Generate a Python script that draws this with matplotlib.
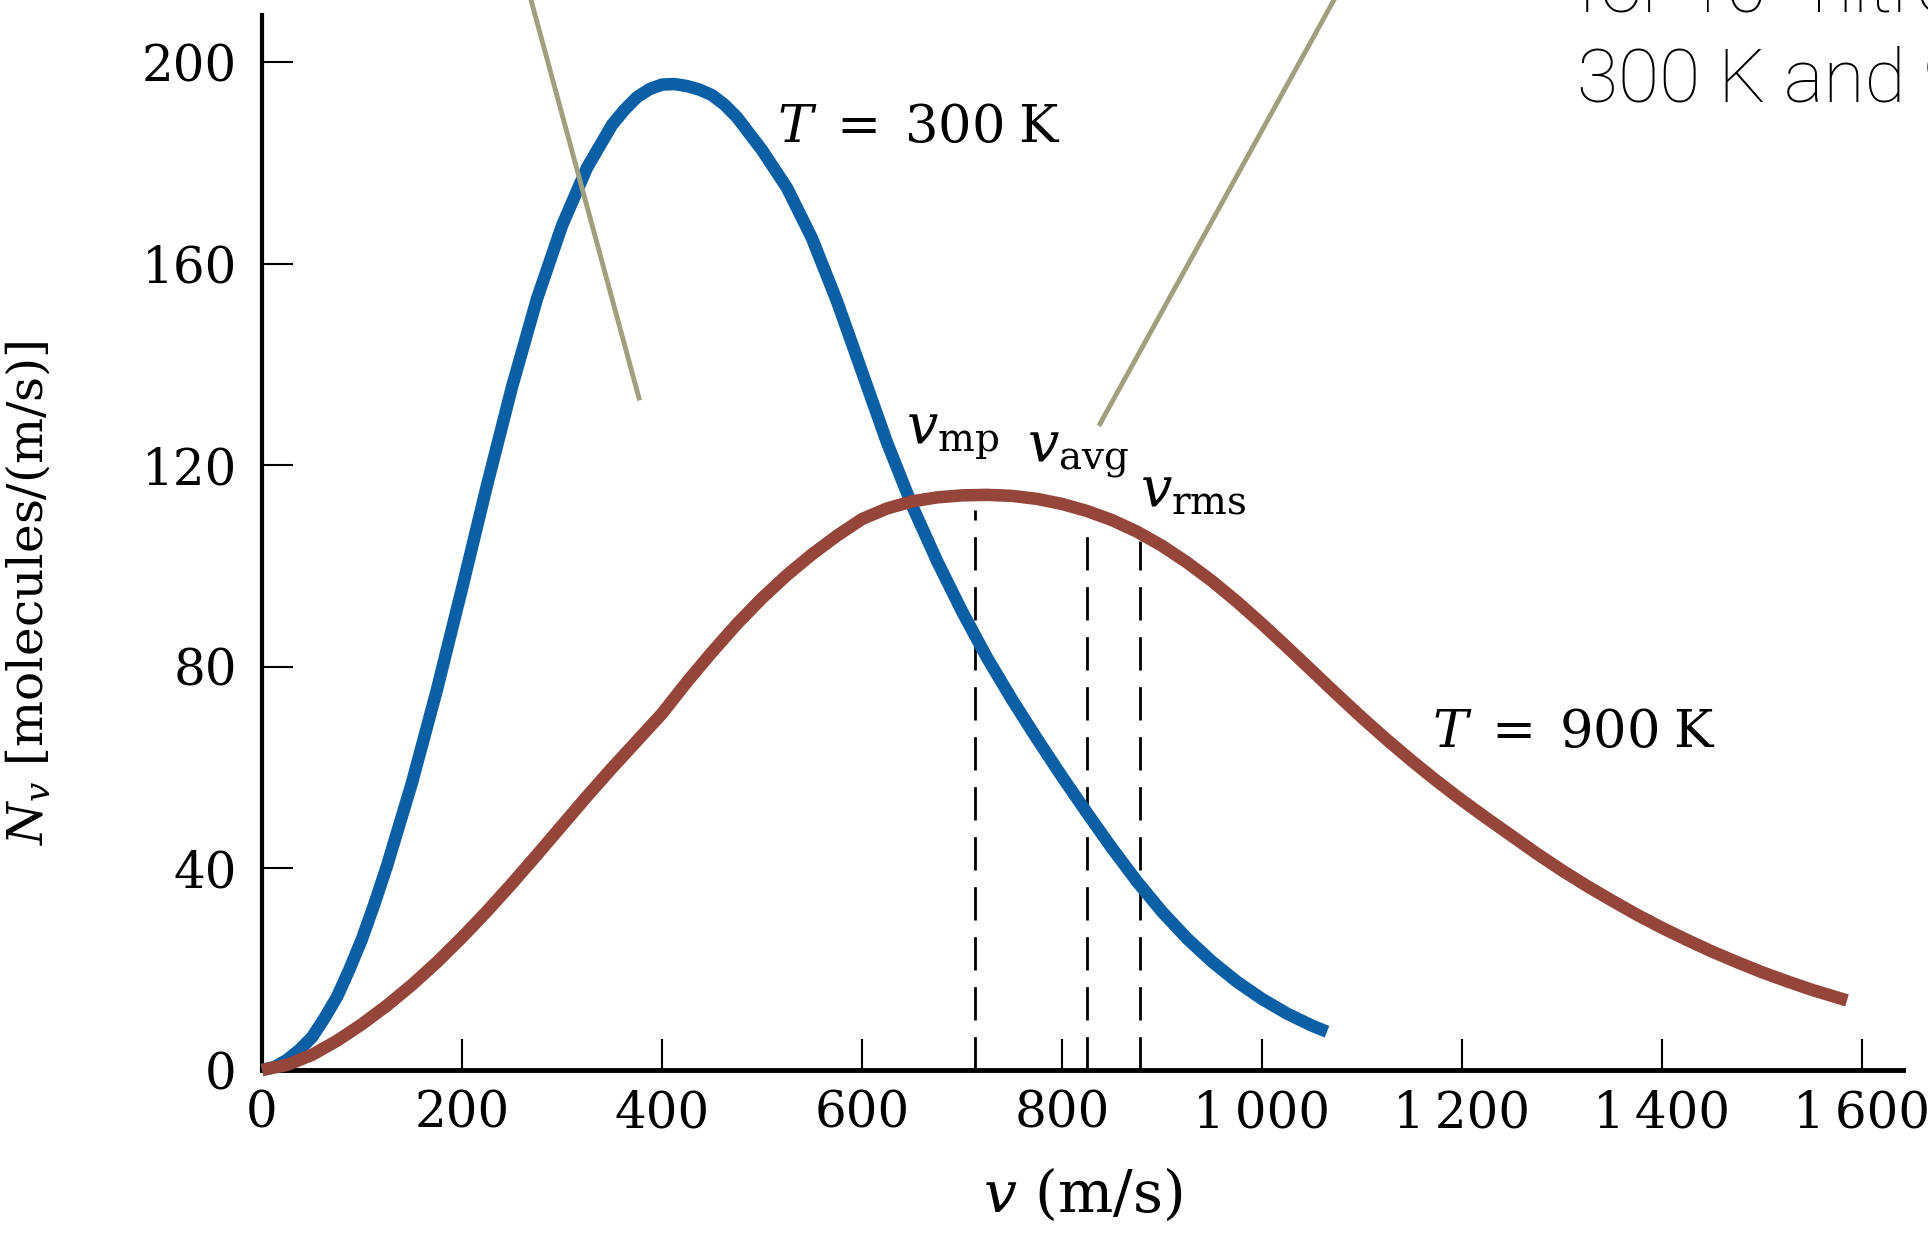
import matplotlib
matplotlib.use("Agg")
import matplotlib.pyplot as plt

# ---- data ----
v_300 = [0, 12.5, 25, 37.5, 50, 62.5, 75, 87.5, 100, 112.5, 125, 150, 175, 200, 225, 250, 275,
         300, 325, 350, 362.5, 375, 387.5, 400, 412.5, 425, 437.5, 450, 462.5, 475, 500, 525,
         550, 575, 600, 625, 650, 675, 700, 725, 750, 775, 800, 825, 850, 875, 900, 925, 950,
         975, 1000, 1025, 1050, 1065]
n_300 = [0, 0.6, 2, 4, 6.5, 10.3, 14.5, 20, 26, 33, 40.5, 57, 75.5, 95.5, 116, 135.5, 153,
         167.5, 179, 187.5, 190.5, 193, 194.6, 195.5, 195.6, 195.2, 194.5, 193.4, 191.5, 189, 182.5, 175,
         165, 152.5, 138.5, 124.5, 112, 101, 91, 81.8, 73.5, 65.7, 58.2, 51, 44, 37.4, 31.4, 26.1, 21.5,
         17.5, 14.1, 11.2, 8.8, 7.6]

v_900 = [0, 25, 50, 75, 100, 125, 150, 175, 200, 225, 250, 275, 300, 325, 350, 375,
         400, 425, 450, 475, 500, 525, 550, 575, 600, 625, 650, 675, 700, 725, 750,
         775, 800, 825, 850, 875, 900, 925, 950, 975, 1000, 1025, 1050, 1075, 1100,
         1125, 1150, 1175, 1200, 1225, 1250, 1275, 1300, 1325, 1350, 1375, 1400,
         1425, 1450, 1475, 1500, 1525, 1550, 1585]
n_900 = [0, 1, 3, 5.8, 9.1, 12.8, 16.9, 21.4, 26.3, 31.5, 37, 42.7, 48.5, 54.3, 59.9, 65.3,
         70.7, 77, 82.9, 88.5, 93.6, 98.2, 102.3, 106, 109.3, 111.4, 112.8, 113.6, 114, 114.1, 113.9,
         113.3, 112.3, 110.9, 109.1, 106.8, 104, 100.7, 97, 92.9, 88.5, 83.9, 79.2, 74.5, 69.9,
         65.5, 61.3, 57.3, 53.5, 49.9, 46.4, 42.9, 39.6, 36.5, 33.6, 30.8, 28.2,
         25.8, 23.5, 21.4, 19.4, 17.6, 15.9, 13.8]

speed_names = [r"$v_{\mathrm{mp}}$", r"$v_{\mathrm{avg}}$", r"$v_{\mathrm{rms}}$"]
speed_values = [713, 825, 878]
speed_tops = [111.0, 108.3, 105.0]
speed_label_pos = [(644, 124.4), (765, 120.6), (878, 111.7)]

x_ticks = [0, 200, 400, 600, 800, 1000, 1200, 1400, 1600]
x_tick_labels = ["0", "200", "400", "600", "800", "1\u2009000", "1\u2009200", "1\u2009400", "1\u2009600"]
y_ticks = [0, 40, 80, 120, 160, 200]

leader1_v = [269, 377]
leader1_n = [212.3, 133.3]
leader2_v = [1072, 838]
leader2_n = [212.3, 128.2]

# ---- style ----
plt.rcParams['font.family'] = ['DejaVu Serif']
plt.rcParams['mathtext.fontset'] = 'dejavuserif'

BLUE = "#0b5fa5"
RED = "#96453b"
LEADER = "#a0a07f"

fig = plt.figure(figsize=(19.28, 12.48), dpi=100)
ax = fig.add_axes([262/1928, 1 - 1070/1248, (1903 - 262)/1928, (1070 - 15)/1248])

ax.plot(v_300, n_300, color=BLUE, lw=9, solid_capstyle='butt', solid_joinstyle='round',
        clip_on=False, zorder=4)
ax.plot(v_900, n_900, color=RED, lw=9, solid_capstyle='butt', solid_joinstyle='round',
        clip_on=False, zorder=4)

for v, top in zip(speed_values, speed_tops):
    ax.plot([v, v], [0, top], color='black', lw=2, dashes=(12, 6), zorder=3)

for name, (px, py) in zip(speed_names, speed_label_pos):
    ax.text(px, py, name, fontsize=40, ha='left', va='baseline')

ax.text(515, 187, r"$T\;=\;300\;\mathrm{K}$", fontsize=38, ha='left', va='center')
ax.text(1170, 67, r"$T\;=\;900\;\mathrm{K}$", fontsize=38, ha='left', va='center')

ax.plot(leader1_v, leader1_n, color=LEADER, lw=3.5, clip_on=False, zorder=5)
ax.plot(leader2_v, leader2_n, color=LEADER, lw=3.5, clip_on=False, zorder=5)

ax.set_xlim(0, 1641)
ax.set_ylim(0, 209.3)
ax.set_xticks(x_ticks)
ax.set_xticklabels(x_tick_labels)
ax.set_yticks(y_ticks)
ax.tick_params(direction='in', length=22, width=1.5, labelsize=36, color='black')
ax.tick_params(axis='y', pad=18)
ax.tick_params(axis='x', pad=14)

for s in ['top', 'right']:
    ax.spines[s].set_visible(False)
ax.spines['left'].set_linewidth(3)
ax.spines['bottom'].set_linewidth(3.5)

ax.set_xlabel(r"$v$ (m/s)", fontsize=42, labelpad=20)
ax.set_ylabel(r"$N_v$ [molecules/(m/s)]", fontsize=35)
ax.yaxis.set_label_coords(-0.127, 0.452)

sans = ['Roboto', 'Lato', 'DejaVu Sans']
fig.text(1577/1928, 1 - 12/1248, "for 10\u2075 nitrogen molecules at", fontsize=54,
         family=sans, fontweight='light', ha='left', va='baseline')
fig.text(1577/1928, 1 - 102/1248, "300 K and 900 K.", fontsize=54,
         family=sans, fontweight='light', ha='left', va='baseline')

fig.savefig("out.png", dpi=100)
